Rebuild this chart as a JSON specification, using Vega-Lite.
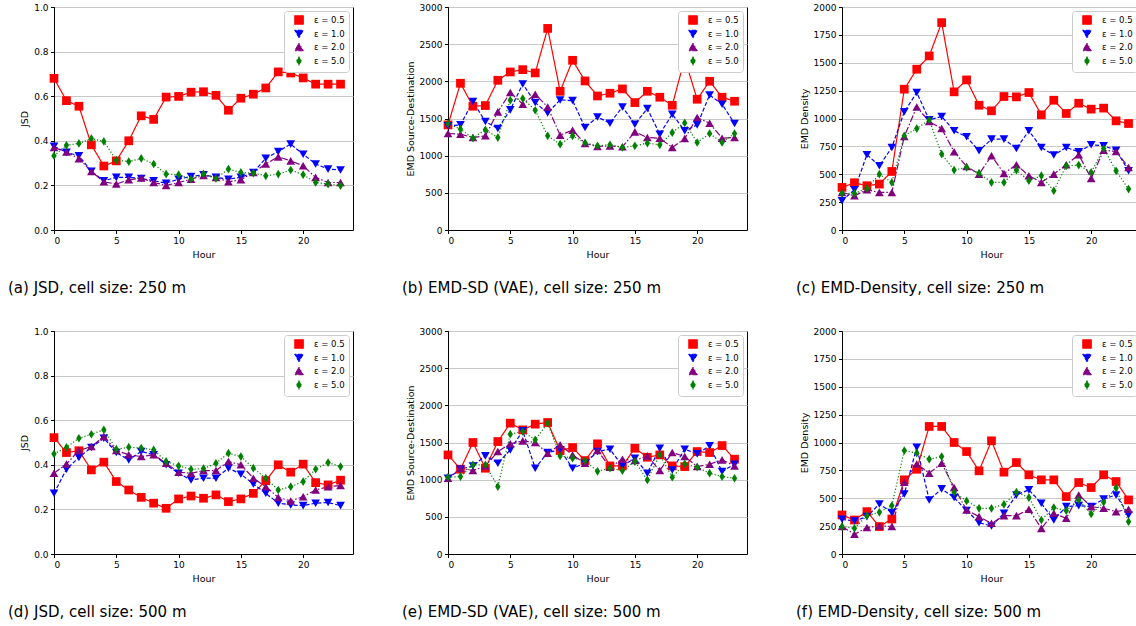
{
  "$schema": "https://vega.github.io/schema/vega-lite/v6.json",
  "padding": {"left": 7, "top": 2, "right": 0, "bottom": 0},
  "datasets": {
    "d": [
      {"h":0,"eps":"ε = 0.5","a":0.68,"b":1414,"c":382,"d":0.522,"e":1333,"f":350},
      {"h":1,"eps":"ε = 0.5","a":0.58,"b":1974,"c":424,"d":0.455,"e":1140,"f":305},
      {"h":2,"eps":"ε = 0.5","a":0.555,"b":1665,"c":397,"d":0.463,"e":1500,"f":380},
      {"h":3,"eps":"ε = 0.5","a":0.382,"b":1674,"c":412,"d":0.377,"e":1154,"f":246},
      {"h":4,"eps":"ε = 0.5","a":0.287,"b":2014,"c":525,"d":0.412,"e":1513,"f":314},
      {"h":5,"eps":"ε = 0.5","a":0.31,"b":2126,"c":1263,"d":0.325,"e":1760,"f":665},
      {"h":6,"eps":"ε = 0.5","a":0.40,"b":2157,"c":1442,"d":0.287,"e":1670,"f":760},
      {"h":7,"eps":"ε = 0.5","a":0.512,"b":2113,"c":1561,"d":0.254,"e":1747,"f":1144},
      {"h":8,"eps":"ε = 0.5","a":0.496,"b":2712,"c":1860,"d":0.228,"e":1769,"f":1144},
      {"h":9,"eps":"ε = 0.5","a":0.596,"b":1866,"c":1239,"d":0.205,"e":1392,"f":1000},
      {"h":10,"eps":"ε = 0.5","a":0.599,"b":2283,"c":1346,"d":0.247,"e":1432,"f":919},
      {"h":11,"eps":"ε = 0.5","a":0.618,"b":2005,"c":1119,"d":0.26,"e":1257,"f":746},
      {"h":12,"eps":"ε = 0.5","a":0.62,"b":1803,"c":1069,"d":0.25,"e":1482,"f":1015},
      {"h":13,"eps":"ε = 0.5","a":0.604,"b":1840,"c":1197,"d":0.265,"e":1185,"f":734},
      {"h":14,"eps":"ε = 0.5","a":0.537,"b":1898,"c":1194,"d":0.235,"e":1185,"f":820},
      {"h":15,"eps":"ε = 0.5","a":0.591,"b":1714,"c":1233,"d":0.247,"e":1423,"f":710},
      {"h":16,"eps":"ε = 0.5","a":0.609,"b":1866,"c":1033,"d":0.272,"e":1302,"f":665},
      {"h":17,"eps":"ε = 0.5","a":0.637,"b":1786,"c":1164,"d":0.329,"e":1333,"f":665},
      {"h":18,"eps":"ε = 0.5","a":0.709,"b":1678,"c":1045,"d":0.4,"e":1185,"f":515},
      {"h":19,"eps":"ε = 0.5","a":0.704,"b":2305,"c":1137,"d":0.367,"e":1176,"f":641},
      {"h":20,"eps":"ε = 0.5","a":0.682,"b":1759,"c":1084,"d":0.403,"e":1378,"f":596},
      {"h":21,"eps":"ε = 0.5","a":0.654,"b":2001,"c":1093,"d":0.32,"e":1365,"f":710},
      {"h":22,"eps":"ε = 0.5","a":0.654,"b":1786,"c":979,"d":0.31,"e":1459,"f":650},
      {"h":23,"eps":"ε = 0.5","a":0.654,"b":1732,"c":955,"d":0.331,"e":1275,"f":485},

      {"h":0,"eps":"ε = 1.0","a":0.375,"b":1401,"c":263,"d":0.272,"e":1019,"f":311},
      {"h":1,"eps":"ε = 1.0","a":0.348,"b":1414,"c":361,"d":0.38,"e":1140,"f":296},
      {"h":2,"eps":"ε = 1.0","a":0.333,"b":1728,"c":675,"d":0.433,"e":1185,"f":335},
      {"h":3,"eps":"ε = 1.0","a":0.263,"b":1459,"c":576,"d":0.478,"e":1320,"f":449},
      {"h":4,"eps":"ε = 1.0","a":0.221,"b":1365,"c":740,"d":0.519,"e":1221,"f":371},
      {"h":5,"eps":"ε = 1.0","a":0.236,"b":1616,"c":1060,"d":0.455,"e":1401,"f":539},
      {"h":6,"eps":"ε = 1.0","a":0.236,"b":1965,"c":1233,"d":0.422,"e":1657,"f":958},
      {"h":7,"eps":"ε = 1.0","a":0.231,"b":1714,"c":988,"d":0.46,"e":1154,"f":485},
      {"h":8,"eps":"ε = 1.0","a":0.221,"b":1576,"c":1018,"d":0.445,"e":1365,"f":584},
      {"h":9,"eps":"ε = 1.0","a":0.21,"b":1750,"c":890,"d":0.4,"e":1401,"f":506},
      {"h":10,"eps":"ε = 1.0","a":0.228,"b":1741,"c":836,"d":0.362,"e":1154,"f":389},
      {"h":11,"eps":"ε = 1.0","a":0.24,"b":1379,"c":710,"d":0.332,"e":1221,"f":281},
      {"h":12,"eps":"ε = 1.0","a":0.248,"b":1520,"c":815,"d":0.34,"e":1378,"f":251},
      {"h":13,"eps":"ε = 1.0","a":0.236,"b":1437,"c":815,"d":0.34,"e":1410,"f":365},
      {"h":14,"eps":"ε = 1.0","a":0.228,"b":1656,"c":731,"d":0.385,"e":1185,"f":530},
      {"h":15,"eps":"ε = 1.0","a":0.236,"b":1423,"c":890,"d":0.358,"e":1289,"f":575},
      {"h":16,"eps":"ε = 1.0","a":0.258,"b":1634,"c":740,"d":0.314,"e":1087,"f":455},
      {"h":17,"eps":"ε = 1.0","a":0.322,"b":1289,"c":672,"d":0.272,"e":1423,"f":305},
      {"h":18,"eps":"ε = 1.0","a":0.352,"b":1558,"c":740,"d":0.228,"e":1131,"f":425},
      {"h":19,"eps":"ε = 1.0","a":0.385,"b":1334,"c":701,"d":0.22,"e":1410,"f":434},
      {"h":20,"eps":"ε = 1.0","a":0.34,"b":1414,"c":764,"d":0.217,"e":1347,"f":425},
      {"h":21,"eps":"ε = 1.0","a":0.296,"b":1817,"c":755,"d":0.228,"e":1455,"f":494},
      {"h":22,"eps":"ε = 1.0","a":0.273,"b":1692,"c":716,"d":0.231,"e":1109,"f":530},
      {"h":23,"eps":"ε = 1.0","a":0.269,"b":1432,"c":531,"d":0.217,"e":1208,"f":350},

      {"h":0,"eps":"ε = 2.0","a":0.37,"b":1298,"c":337,"d":0.362,"e":1019,"f":246},
      {"h":1,"eps":"ε = 2.0","a":0.35,"b":1289,"c":307,"d":0.404,"e":1154,"f":177},
      {"h":2,"eps":"ε = 2.0","a":0.32,"b":1244,"c":361,"d":0.464,"e":1122,"f":237},
      {"h":3,"eps":"ε = 2.0","a":0.263,"b":1267,"c":337,"d":0.482,"e":1185,"f":254},
      {"h":4,"eps":"ε = 2.0","a":0.216,"b":1589,"c":337,"d":0.527,"e":1378,"f":246},
      {"h":5,"eps":"ε = 2.0","a":0.206,"b":1849,"c":839,"d":0.464,"e":1482,"f":644},
      {"h":6,"eps":"ε = 2.0","a":0.225,"b":1692,"c":1104,"d":0.445,"e":1522,"f":808},
      {"h":7,"eps":"ε = 2.0","a":0.233,"b":1826,"c":973,"d":0.437,"e":1500,"f":725},
      {"h":8,"eps":"ε = 2.0","a":0.213,"b":1656,"c":910,"d":0.445,"e":1356,"f":814},
      {"h":9,"eps":"ε = 2.0","a":0.2,"b":1276,"c":701,"d":0.407,"e":1468,"f":596},
      {"h":10,"eps":"ε = 2.0","a":0.213,"b":1343,"c":570,"d":0.367,"e":1333,"f":395},
      {"h":11,"eps":"ε = 2.0","a":0.228,"b":1164,"c":501,"d":0.362,"e":1221,"f":335},
      {"h":12,"eps":"ε = 2.0","a":0.245,"b":1125,"c":666,"d":0.374,"e":1392,"f":275},
      {"h":13,"eps":"ε = 2.0","a":0.236,"b":1132,"c":507,"d":0.374,"e":1167,"f":344},
      {"h":14,"eps":"ε = 2.0","a":0.216,"b":1119,"c":585,"d":0.415,"e":1275,"f":344},
      {"h":15,"eps":"ε = 2.0","a":0.225,"b":1320,"c":487,"d":0.4,"e":1257,"f":401},
      {"h":16,"eps":"ε = 2.0","a":0.258,"b":1244,"c":427,"d":0.34,"e":1320,"f":230},
      {"h":17,"eps":"ε = 2.0","a":0.296,"b":1235,"c":501,"d":0.302,"e":1122,"f":365},
      {"h":18,"eps":"ε = 2.0","a":0.328,"b":1110,"c":585,"d":0.254,"e":1365,"f":320},
      {"h":19,"eps":"ε = 2.0","a":0.31,"b":1231,"c":675,"d":0.238,"e":1311,"f":530},
      {"h":20,"eps":"ε = 2.0","a":0.288,"b":1513,"c":463,"d":0.257,"e":1176,"f":425},
      {"h":21,"eps":"ε = 2.0","a":0.236,"b":1437,"c":716,"d":0.287,"e":1208,"f":410},
      {"h":22,"eps":"ε = 2.0","a":0.213,"b":1235,"c":704,"d":0.302,"e":1266,"f":380},
      {"h":23,"eps":"ε = 2.0","a":0.213,"b":1244,"c":561,"d":0.307,"e":1185,"f":401},

      {"h":0,"eps":"ε = 5.0","a":0.333,"b":1432,"c":328,"d":0.449,"e":1033,"f":246},
      {"h":1,"eps":"ε = 5.0","a":0.38,"b":1356,"c":328,"d":0.478,"e":1042,"f":230},
      {"h":2,"eps":"ε = 5.0","a":0.388,"b":1235,"c":373,"d":0.519,"e":1199,"f":344},
      {"h":3,"eps":"ε = 5.0","a":0.41,"b":1347,"c":501,"d":0.537,"e":1199,"f":374},
      {"h":4,"eps":"ε = 5.0","a":0.397,"b":1244,"c":427,"d":0.557,"e":907,"f":434},
      {"h":5,"eps":"ε = 5.0","a":0.313,"b":1746,"c":845,"d":0.47,"e":1612,"f":928},
      {"h":6,"eps":"ε = 5.0","a":0.307,"b":1768,"c":910,"d":0.479,"e":1648,"f":904},
      {"h":7,"eps":"ε = 5.0","a":0.321,"b":1611,"c":988,"d":0.475,"e":1536,"f":850},
      {"h":8,"eps":"ε = 5.0","a":0.296,"b":1267,"c":681,"d":0.467,"e":1760,"f":874},
      {"h":9,"eps":"ε = 5.0","a":0.251,"b":1155,"c":537,"d":0.415,"e":1320,"f":554},
      {"h":10,"eps":"ε = 5.0","a":0.248,"b":1267,"c":561,"d":0.395,"e":1289,"f":476},
      {"h":11,"eps":"ε = 5.0","a":0.228,"b":1173,"c":510,"d":0.38,"e":1253,"f":410},
      {"h":12,"eps":"ε = 5.0","a":0.252,"b":1132,"c":427,"d":0.383,"e":1112,"f":410},
      {"h":13,"eps":"ε = 5.0","a":0.231,"b":1146,"c":427,"d":0.407,"e":1154,"f":446},
      {"h":14,"eps":"ε = 5.0","a":0.273,"b":1110,"c":537,"d":0.452,"e":1122,"f":554},
      {"h":15,"eps":"ε = 5.0","a":0.258,"b":1132,"c":442,"d":0.437,"e":1244,"f":506},
      {"h":16,"eps":"ε = 5.0","a":0.255,"b":1168,"c":487,"d":0.385,"e":997,"f":305},
      {"h":17,"eps":"ε = 5.0","a":0.243,"b":1146,"c":352,"d":0.34,"e":1333,"f":416},
      {"h":18,"eps":"ε = 5.0","a":0.251,"b":1311,"c":576,"d":0.287,"e":1033,"f":389},
      {"h":19,"eps":"ε = 5.0","a":0.269,"b":1441,"c":582,"d":0.302,"e":1212,"f":485},
      {"h":20,"eps":"ε = 5.0","a":0.248,"b":1177,"c":516,"d":0.325,"e":1167,"f":359},
      {"h":21,"eps":"ε = 5.0","a":0.213,"b":1298,"c":731,"d":0.38,"e":1087,"f":464},
      {"h":22,"eps":"ε = 5.0","a":0.206,"b":1177,"c":531,"d":0.41,"e":1042,"f":593},
      {"h":23,"eps":"ε = 5.0","a":0.199,"b":1298,"c":367,"d":0.392,"e":1019,"f":290}
    ]
  },
  "data": {"name": "d"},
  "bounds": "flush",
  "columns": 3,
  "spacing": {"row": 101, "column": 95},
  "resolve": {
    "scale": {"x": "independent", "y": "independent", "color": "independent", "shape": "independent", "strokeDash": "independent"},
    "axis": {"x": "independent", "y": "independent"},
    "legend": {"color": "independent", "shape": "independent", "strokeDash": "independent"}
  },
  "concat": [
    {
      "width": 299, "height": 223,
      "title": {"text": "(a) JSD, cell size: 250 m"},
      "encoding": {
        "x": {"field": "h", "type": "quantitative", "scale": {"domain": [0, 24], "nice": false}, "axis": {"values": [0, 5, 10, 15, 20], "title": "Hour"}},
        "y": {"field": "a", "type": "quantitative", "scale": {"domain": [0, 1], "nice": false}, "axis": {"values": [0, 0.2, 0.4, 0.6, 0.8, 1.0], "format": ".1f", "title": "JSD"}},
        "color": {"field": "eps", "type": "nominal", "scale": {"domain": ["ε = 0.5", "ε = 1.0", "ε = 2.0", "ε = 5.0"], "range": ["#ff0000", "#0000ff", "#800080", "#008000"]}, "legend": {"title": null}}
      },
      "layer": [
        {"mark": {"type": "line", "strokeWidth": 1.2}, "encoding": {"strokeDash": {"field": "eps", "type": "nominal", "scale": {"domain": ["ε = 0.5", "ε = 1.0", "ε = 2.0", "ε = 5.0"], "range": [[1, 0], [4, 2], [7, 2, 1.5, 2], [1.2, 2]]}, "legend": {"title": null}}}},
        {"mark": {"type": "point", "filled": true, "opacity": 1, "size": 76}, "encoding": {"shape": {"field": "eps", "type": "nominal", "scale": {"domain": ["ε = 0.5", "ε = 1.0", "ε = 2.0", "ε = 5.0"], "range": ["square", "triangle-down", "triangle-up", "M0,-1L0.62,0L0,1L-0.62,0Z"]}, "legend": {"title": null}}}}
      ]
    },
    {
      "width": 299, "height": 223,
      "title": {"text": "(b) EMD-SD (VAE), cell size: 250 m"},
      "encoding": {
        "x": {"field": "h", "type": "quantitative", "scale": {"domain": [0, 24], "nice": false}, "axis": {"values": [0, 5, 10, 15, 20], "title": "Hour"}},
        "y": {"field": "b", "type": "quantitative", "scale": {"domain": [0, 3000], "nice": false}, "axis": {"values": [0, 500, 1000, 1500, 2000, 2500, 3000], "format": "d", "title": "EMD Source-Destination"}},
        "color": {"field": "eps", "type": "nominal", "scale": {"domain": ["ε = 0.5", "ε = 1.0", "ε = 2.0", "ε = 5.0"], "range": ["#ff0000", "#0000ff", "#800080", "#008000"]}, "legend": {"title": null}}
      },
      "layer": [
        {"mark": {"type": "line", "strokeWidth": 1.2}, "encoding": {"strokeDash": {"field": "eps", "type": "nominal", "scale": {"domain": ["ε = 0.5", "ε = 1.0", "ε = 2.0", "ε = 5.0"], "range": [[1, 0], [4, 2], [7, 2, 1.5, 2], [1.2, 2]]}, "legend": {"title": null}}}},
        {"mark": {"type": "point", "filled": true, "opacity": 1, "size": 76}, "encoding": {"shape": {"field": "eps", "type": "nominal", "scale": {"domain": ["ε = 0.5", "ε = 1.0", "ε = 2.0", "ε = 5.0"], "range": ["square", "triangle-down", "triangle-up", "M0,-1L0.62,0L0,1L-0.62,0Z"]}, "legend": {"title": null}}}}
      ]
    },
    {
      "width": 299, "height": 223,
      "title": {"text": "(c) EMD-Density, cell size: 250 m"},
      "encoding": {
        "x": {"field": "h", "type": "quantitative", "scale": {"domain": [0, 24], "nice": false}, "axis": {"values": [0, 5, 10, 15, 20], "title": "Hour"}},
        "y": {"field": "c", "type": "quantitative", "scale": {"domain": [0, 2000], "nice": false}, "axis": {"values": [0, 250, 500, 750, 1000, 1250, 1500, 1750, 2000], "format": "d", "title": "EMD Density"}},
        "color": {"field": "eps", "type": "nominal", "scale": {"domain": ["ε = 0.5", "ε = 1.0", "ε = 2.0", "ε = 5.0"], "range": ["#ff0000", "#0000ff", "#800080", "#008000"]}, "legend": {"title": null}}
      },
      "layer": [
        {"mark": {"type": "line", "strokeWidth": 1.2}, "encoding": {"strokeDash": {"field": "eps", "type": "nominal", "scale": {"domain": ["ε = 0.5", "ε = 1.0", "ε = 2.0", "ε = 5.0"], "range": [[1, 0], [4, 2], [7, 2, 1.5, 2], [1.2, 2]]}, "legend": {"title": null}}}},
        {"mark": {"type": "point", "filled": true, "opacity": 1, "size": 76}, "encoding": {"shape": {"field": "eps", "type": "nominal", "scale": {"domain": ["ε = 0.5", "ε = 1.0", "ε = 2.0", "ε = 5.0"], "range": ["square", "triangle-down", "triangle-up", "M0,-1L0.62,0L0,1L-0.62,0Z"]}, "legend": {"title": null}}}}
      ]
    },
    {
      "width": 299, "height": 223,
      "title": {"text": "(d) JSD, cell size: 500 m"},
      "encoding": {
        "x": {"field": "h", "type": "quantitative", "scale": {"domain": [0, 24], "nice": false}, "axis": {"values": [0, 5, 10, 15, 20], "title": "Hour"}},
        "y": {"field": "d", "type": "quantitative", "scale": {"domain": [0, 1], "nice": false}, "axis": {"values": [0, 0.2, 0.4, 0.6, 0.8, 1.0], "format": ".1f", "title": "JSD"}},
        "color": {"field": "eps", "type": "nominal", "scale": {"domain": ["ε = 0.5", "ε = 1.0", "ε = 2.0", "ε = 5.0"], "range": ["#ff0000", "#0000ff", "#800080", "#008000"]}, "legend": {"title": null}}
      },
      "layer": [
        {"mark": {"type": "line", "strokeWidth": 1.2}, "encoding": {"strokeDash": {"field": "eps", "type": "nominal", "scale": {"domain": ["ε = 0.5", "ε = 1.0", "ε = 2.0", "ε = 5.0"], "range": [[1, 0], [4, 2], [7, 2, 1.5, 2], [1.2, 2]]}, "legend": {"title": null}}}},
        {"mark": {"type": "point", "filled": true, "opacity": 1, "size": 76}, "encoding": {"shape": {"field": "eps", "type": "nominal", "scale": {"domain": ["ε = 0.5", "ε = 1.0", "ε = 2.0", "ε = 5.0"], "range": ["square", "triangle-down", "triangle-up", "M0,-1L0.62,0L0,1L-0.62,0Z"]}, "legend": {"title": null}}}}
      ]
    },
    {
      "width": 299, "height": 223,
      "title": {"text": "(e) EMD-SD (VAE), cell size: 500 m"},
      "encoding": {
        "x": {"field": "h", "type": "quantitative", "scale": {"domain": [0, 24], "nice": false}, "axis": {"values": [0, 5, 10, 15, 20], "title": "Hour"}},
        "y": {"field": "e", "type": "quantitative", "scale": {"domain": [0, 3000], "nice": false}, "axis": {"values": [0, 500, 1000, 1500, 2000, 2500, 3000], "format": "d", "title": "EMD Source-Destination"}},
        "color": {"field": "eps", "type": "nominal", "scale": {"domain": ["ε = 0.5", "ε = 1.0", "ε = 2.0", "ε = 5.0"], "range": ["#ff0000", "#0000ff", "#800080", "#008000"]}, "legend": {"title": null}}
      },
      "layer": [
        {"mark": {"type": "line", "strokeWidth": 1.2}, "encoding": {"strokeDash": {"field": "eps", "type": "nominal", "scale": {"domain": ["ε = 0.5", "ε = 1.0", "ε = 2.0", "ε = 5.0"], "range": [[1, 0], [4, 2], [7, 2, 1.5, 2], [1.2, 2]]}, "legend": {"title": null}}}},
        {"mark": {"type": "point", "filled": true, "opacity": 1, "size": 76}, "encoding": {"shape": {"field": "eps", "type": "nominal", "scale": {"domain": ["ε = 0.5", "ε = 1.0", "ε = 2.0", "ε = 5.0"], "range": ["square", "triangle-down", "triangle-up", "M0,-1L0.62,0L0,1L-0.62,0Z"]}, "legend": {"title": null}}}}
      ]
    },
    {
      "width": 299, "height": 223,
      "title": {"text": "(f) EMD-Density, cell size: 500 m"},
      "encoding": {
        "x": {"field": "h", "type": "quantitative", "scale": {"domain": [0, 24], "nice": false}, "axis": {"values": [0, 5, 10, 15, 20], "title": "Hour"}},
        "y": {"field": "f", "type": "quantitative", "scale": {"domain": [0, 2000], "nice": false}, "axis": {"values": [0, 250, 500, 750, 1000, 1250, 1500, 1750, 2000], "format": "d", "title": "EMD Density"}},
        "color": {"field": "eps", "type": "nominal", "scale": {"domain": ["ε = 0.5", "ε = 1.0", "ε = 2.0", "ε = 5.0"], "range": ["#ff0000", "#0000ff", "#800080", "#008000"]}, "legend": {"title": null}}
      },
      "layer": [
        {"mark": {"type": "line", "strokeWidth": 1.2}, "encoding": {"strokeDash": {"field": "eps", "type": "nominal", "scale": {"domain": ["ε = 0.5", "ε = 1.0", "ε = 2.0", "ε = 5.0"], "range": [[1, 0], [4, 2], [7, 2, 1.5, 2], [1.2, 2]]}, "legend": {"title": null}}}},
        {"mark": {"type": "point", "filled": true, "opacity": 1, "size": 76}, "encoding": {"shape": {"field": "eps", "type": "nominal", "scale": {"domain": ["ε = 0.5", "ε = 1.0", "ε = 2.0", "ε = 5.0"], "range": ["square", "triangle-down", "triangle-up", "M0,-1L0.62,0L0,1L-0.62,0Z"]}, "legend": {"title": null}}}}
      ]
    }
  ],
  "config": {
    "font": "DejaVu Sans",
    "background": "white",
    "view": {"stroke": "black", "strokeWidth": 1},
    "axis": {"labelFontSize": 9, "titleFontSize": 9.5, "titleFontWeight": "normal", "labelColor": "black", "titleColor": "black", "domainColor": "black", "tickColor": "black", "tickSize": 3.5, "labelPadding": 2.5, "titlePadding": 4, "grid": false, "labelFont": "DejaVu Sans", "titleFont": "DejaVu Sans"},
    "axisY": {"grid": true, "gridColor": "#c8c8c8", "gridWidth": 1},
    "legend": {"orient": "top-right", "offset": 4, "fillColor": "white", "strokeColor": "#cccccc", "padding": 4, "cornerRadius": 3, "labelFontSize": 8.5, "labelFont": "DejaVu Sans", "labelColor": "black", "symbolSize": 75, "rowPadding": 1, "symbolOffset": 6, "labelOffset": 10, "symbolStrokeWidth": 1},
    "title": {"orient": "bottom", "anchor": "start", "frame": "group", "fontSize": 15, "fontWeight": "normal", "font": "DejaVu Sans", "color": "black", "offset": 22, "dx": -46}
  }
}
